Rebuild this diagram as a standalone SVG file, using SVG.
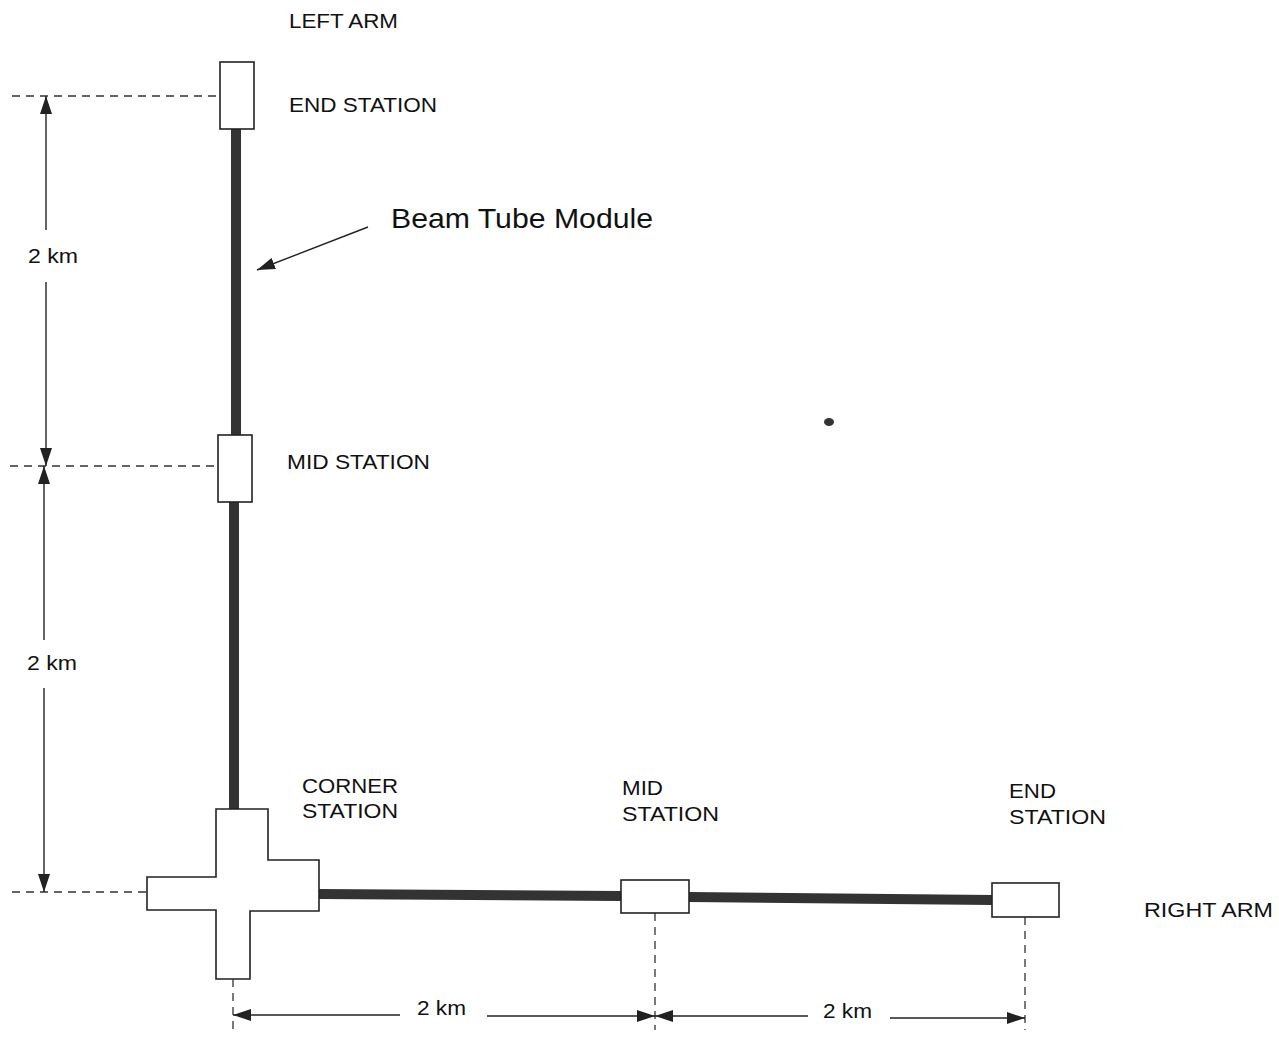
<svg xmlns="http://www.w3.org/2000/svg" width="1279" height="1038" viewBox="0 0 1279 1038">
<defs>
<marker id="ah" viewBox="0 0 18 12" refX="18" refY="6" markerWidth="18" markerHeight="12" markerUnits="userSpaceOnUse" orient="auto-start-reverse">
<path d="M0,0 L18,6 L0,12 Z" fill="#222"/>
</marker>
<style>
.lbl{font-family:"Liberation Sans",Arial,sans-serif;font-size:21px;fill:#111}
.big{font-size:28px}
.st{fill:#fff;stroke:#222;stroke-width:1.6}
.tube{stroke:#333;stroke-width:10;fill:none}
.dash{stroke:#333;stroke-width:1.3;stroke-dasharray:8,6;fill:none}
.dim{stroke:#222;stroke-width:1.4;fill:none}
</style>
</defs>
<rect width="1279" height="1038" fill="#fff"/>
<g id="connectors">
<line class="tube" x1="236" y1="129" x2="236" y2="435"/>
<line class="tube" x1="234" y1="502" x2="234" y2="809"/>
<line class="tube" x1="319" y1="894" x2="621" y2="896"/>
<line class="tube" x1="689" y1="897" x2="992" y2="900"/>
<line class="dash" x1="12" y1="96" x2="220" y2="96"/>
<line class="dash" x1="10" y1="466" x2="218" y2="466"/>
<line class="dash" x1="12" y1="892" x2="147" y2="892"/>
<line class="dash" x1="233" y1="979" x2="233" y2="1030"/>
<line class="dash" x1="655" y1="913" x2="655" y2="1030"/>
<line class="dash" x1="1025" y1="917" x2="1025" y2="1030"/>
<line class="dim" x1="46" y1="230" x2="46" y2="96" marker-end="url(#ah)"/>
<line class="dim" x1="46" y1="282" x2="46" y2="466" marker-end="url(#ah)"/>
<line class="dim" x1="44" y1="640" x2="44" y2="466" marker-end="url(#ah)"/>
<line class="dim" x1="44" y1="688" x2="44" y2="892" marker-end="url(#ah)"/>
<line class="dim" x1="400" y1="1015" x2="233" y2="1015" marker-end="url(#ah)"/>
<line class="dim" x1="487" y1="1016" x2="655" y2="1016" marker-end="url(#ah)"/>
<line class="dim" x1="808" y1="1016" x2="655" y2="1016" marker-end="url(#ah)"/>
<line class="dim" x1="890" y1="1018" x2="1025" y2="1018" marker-end="url(#ah)"/>
<line class="dim" x1="368" y1="227" x2="257" y2="270" marker-end="url(#ah)"/>
</g>
<g id="left-end-station">
<rect class="st" x="220" y="62" width="34" height="67"/>
<text class="lbl" x="289" y="112" textLength="148" lengthAdjust="spacingAndGlyphs">END STATION</text>
</g>
<g id="left-arm-label"><text class="lbl" x="289" y="28" textLength="109" lengthAdjust="spacingAndGlyphs">LEFT ARM</text></g>
<g id="beam-tube-label"><text class="lbl big" x="391" y="228" textLength="262" lengthAdjust="spacingAndGlyphs">Beam Tube Module</text></g>
<g id="left-mid-station">
<rect class="st" x="218" y="435" width="34" height="67"/>
<text class="lbl" x="287" y="469" textLength="143" lengthAdjust="spacingAndGlyphs">MID STATION</text>
</g>
<g id="corner-station">
<path class="st" d="M216,809 H268 V860 H319 V911 H250 V979 H216 V910 H147 V877 H216 Z"/>
<text class="lbl" x="302" y="793" textLength="96" lengthAdjust="spacingAndGlyphs">CORNER</text>
<text class="lbl" x="302" y="818" textLength="96" lengthAdjust="spacingAndGlyphs">STATION</text>
</g>
<g id="right-mid-station">
<rect class="st" x="621" y="880" width="68" height="33"/>
<text class="lbl" x="622" y="795" textLength="41" lengthAdjust="spacingAndGlyphs">MID</text>
<text class="lbl" x="622" y="821" textLength="97" lengthAdjust="spacingAndGlyphs">STATION</text>
</g>
<g id="right-end-station">
<rect class="st" x="992" y="883" width="67" height="34"/>
<text class="lbl" x="1009" y="798" textLength="47" lengthAdjust="spacingAndGlyphs">END</text>
<text class="lbl" x="1009" y="824" textLength="97" lengthAdjust="spacingAndGlyphs">STATION</text>
</g>
<g id="right-arm-label"><text class="lbl" x="1144" y="917" textLength="129" lengthAdjust="spacingAndGlyphs">RIGHT ARM</text></g>
<g id="dimension-labels">
<text class="lbl" x="28" y="263" textLength="50" lengthAdjust="spacingAndGlyphs">2 km</text>
<text class="lbl" x="27" y="670" textLength="50" lengthAdjust="spacingAndGlyphs">2 km</text>
<text class="lbl" x="417" y="1015" textLength="49" lengthAdjust="spacingAndGlyphs">2 km</text>
<text class="lbl" x="823" y="1018" textLength="49" lengthAdjust="spacingAndGlyphs">2 km</text>
</g>
<ellipse cx="829" cy="422" rx="5" ry="4" fill="#333"/>
</svg>
